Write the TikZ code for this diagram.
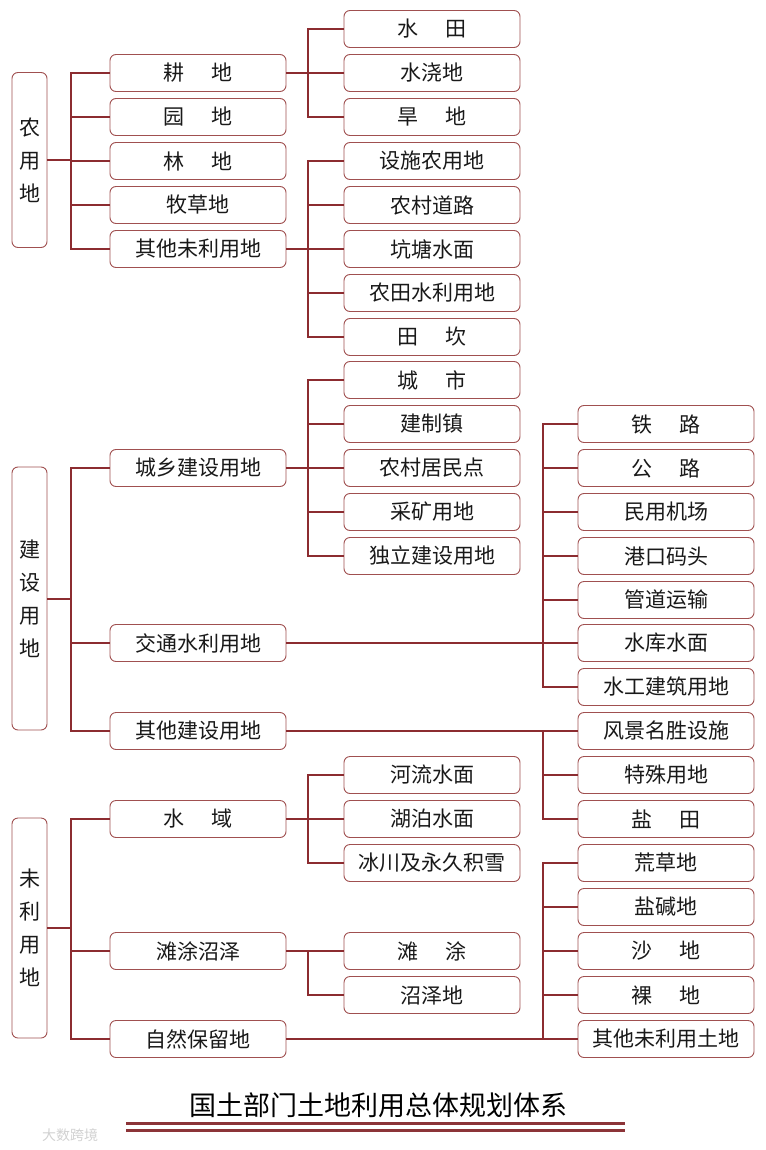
\documentclass[tikz,border=0pt]{standalone}
\usepackage{fontspec}
\setmainfont{Noto Sans CJK SC}
\definecolor{linec}{RGB}{140,44,48}
\definecolor{boxc}{RGB}{160,80,80}
\definecolor{titlec}{RGB}{140,52,56}
\newcommand{\kgap}{\hspace{1.3em}}
\begin{document}
\begin{tikzpicture}[x=1pt,y=-1pt,
  box/.style={draw=boxc, line width=0.9pt, rounded corners=6pt, minimum width=176pt, minimum height=37pt, inner sep=0pt, fill=white, font=\fontsize{21}{24}\selectfont, text=black!90},
  vbox/.style={draw=boxc, line width=0.9pt, rounded corners=6pt, minimum width=35pt, inner sep=0pt, align=center, fill=white, font=\fontsize{21}{33}\selectfont, text=black!90},
  link/.style={draw=linec, line width=2pt},
  tline/.style={draw=titlec, line width=3pt}
]
\useasboundingbox (0,0) rectangle (765,1150);

% level 1
\node[vbox, minimum height=175pt] (nong) at (29.5,160) {农\\用\\地};
\node[vbox, minimum height=263pt] (jian) at (29.5,598.5) {建\\设\\用\\地};
\node[vbox, minimum height=220pt] (wei) at (29.5,928) {未\\利\\用\\地};

% level 2
\node[box] (geng) at (198,73) {耕\kgap 地};
\node[box] (yuan) at (198,117) {园\kgap 地};
\node[box] (lin) at (198,161) {林\kgap 地};
\node[box] (mu) at (198,205) {牧草地};
\node[box] (qtwly) at (198,249) {其他未利用地};
\node[box] (cxjs) at (198,468) {城乡建设用地};
\node[box] (jtsl) at (198,643) {交通水利用地};
\node[box] (qtjs) at (198,731) {其他建设用地};
\node[box] (shuiyu) at (198,819) {水\kgap 域};
\node[box] (tuze) at (198,951) {滩涂沼泽};
\node[box] (zrbl) at (198,1039) {自然保留地};

% level 3
\node[box] (shuitian) at (432,29) {水\kgap 田};
\node[box] (shuijiao) at (432,73) {水浇地};
\node[box] (handi) at (432,117) {旱\kgap 地};
\node[box] (sheshi) at (432,161) {设施农用地};
\node[box] (ncdl) at (432,205) {农村道路};
\node[box] (kengtang) at (432,249) {坑塘水面};
\node[box] (ntsl) at (432,293) {农田水利用地};
\node[box] (tiankan) at (432,337) {田\kgap 坎};
\node[box] (chengshi) at (432,380) {城\kgap 市};
\node[box] (jzz) at (432,424) {建制镇};
\node[box] (ncjm) at (432,468) {农村居民点};
\node[box] (caikuang) at (432,512) {采矿用地};
\node[box] (dljs) at (432,556) {独立建设用地};
\node[box] (heliu) at (432,775) {河流水面};
\node[box] (hupo) at (432,819) {湖泊水面};
\node[box] (bingchuan) at (432,863) {冰川及永久积雪};
\node[box] (tantu) at (432,951) {滩\kgap 涂};
\node[box] (zhaoze) at (432,995) {沼泽地};

% level 4
\node[box] (tielu) at (666,424) {铁\kgap 路};
\node[box] (gonglu) at (666,468) {公\kgap 路};
\node[box] (jichang) at (666,512) {民用机场};
\node[box] (gangkou) at (666,556) {港口码头};
\node[box] (guandao) at (666,600) {管道运输};
\node[box] (shuiku) at (666,643) {水库水面};
\node[box] (shuigong) at (666,687) {水工建筑用地};
\node[box] (fengjing) at (666,731) {风景名胜设施};
\node[box] (teshu) at (666,775) {特殊用地};
\node[box] (yantian) at (666,819) {盐\kgap 田};
\node[box] (huangcao) at (666,863) {荒草地};
\node[box] (yanjian) at (666,907) {盐碱地};
\node[box] (shadi) at (666,951) {沙\kgap 地};
\node[box] (ludi) at (666,995) {裸\kgap 地};
\node[box] (qtwlytd) at (666,1039) {其他未利用土地};

% connectors level 1 -> 2
\foreach \c in {geng,yuan,lin,mu,qtwly}
  \draw[link] (nong.east) -- ++(24,0) |- (\c.west);
\foreach \c in {cxjs,jtsl,qtjs}
  \draw[link] (jian.east) -- ++(24,0) |- (\c.west);
\foreach \c in {shuiyu,tuze,zrbl}
  \draw[link] (wei.east) -- ++(24,0) |- (\c.west);

% connectors level 2 -> 3
\foreach \c in {shuitian,shuijiao,handi}
  \draw[link] (geng.east) -- ++(22,0) |- (\c.west);
\foreach \c in {sheshi,ncdl,kengtang,ntsl,tiankan}
  \draw[link] (qtwly.east) -- ++(22,0) |- (\c.west);
\foreach \c in {chengshi,jzz,ncjm,caikuang,dljs}
  \draw[link] (cxjs.east) -- ++(22,0) |- (\c.west);
\foreach \c in {heliu,hupo,bingchuan}
  \draw[link] (shuiyu.east) -- ++(22,0) |- (\c.west);
\foreach \c in {tantu,zhaoze}
  \draw[link] (tuze.east) -- ++(22,0) |- (\c.west);

% connectors level 2 -> 4
\foreach \c in {tielu,gonglu,jichang,gangkou,guandao,shuiku,shuigong}
  \draw[link] (jtsl.east) -- ++(257,0) |- (\c.west);
\foreach \c in {fengjing,teshu,yantian}
  \draw[link] (qtjs.east) -- ++(257,0) |- (\c.west);
\foreach \c in {huangcao,yanjian,shadi,ludi,qtwlytd}
  \draw[link] (zrbl.east) -- ++(257,0) |- (\c.west);

% title
\node[font=\fontsize{27}{30}\selectfont, text=black, inner sep=0pt] (title) at (378,1105) {国土部门土地利用总体规划体系};
\draw[tline] (126,1123.5) -- (625,1123.5);
\draw[tline] (126,1130.5) -- (625,1130.5);

% watermark
\node[font=\fontsize{14}{14}\selectfont, text=black!18, inner sep=0pt] (wm) at (70,1135) {大数跨境};
\end{tikzpicture}
\end{document}
